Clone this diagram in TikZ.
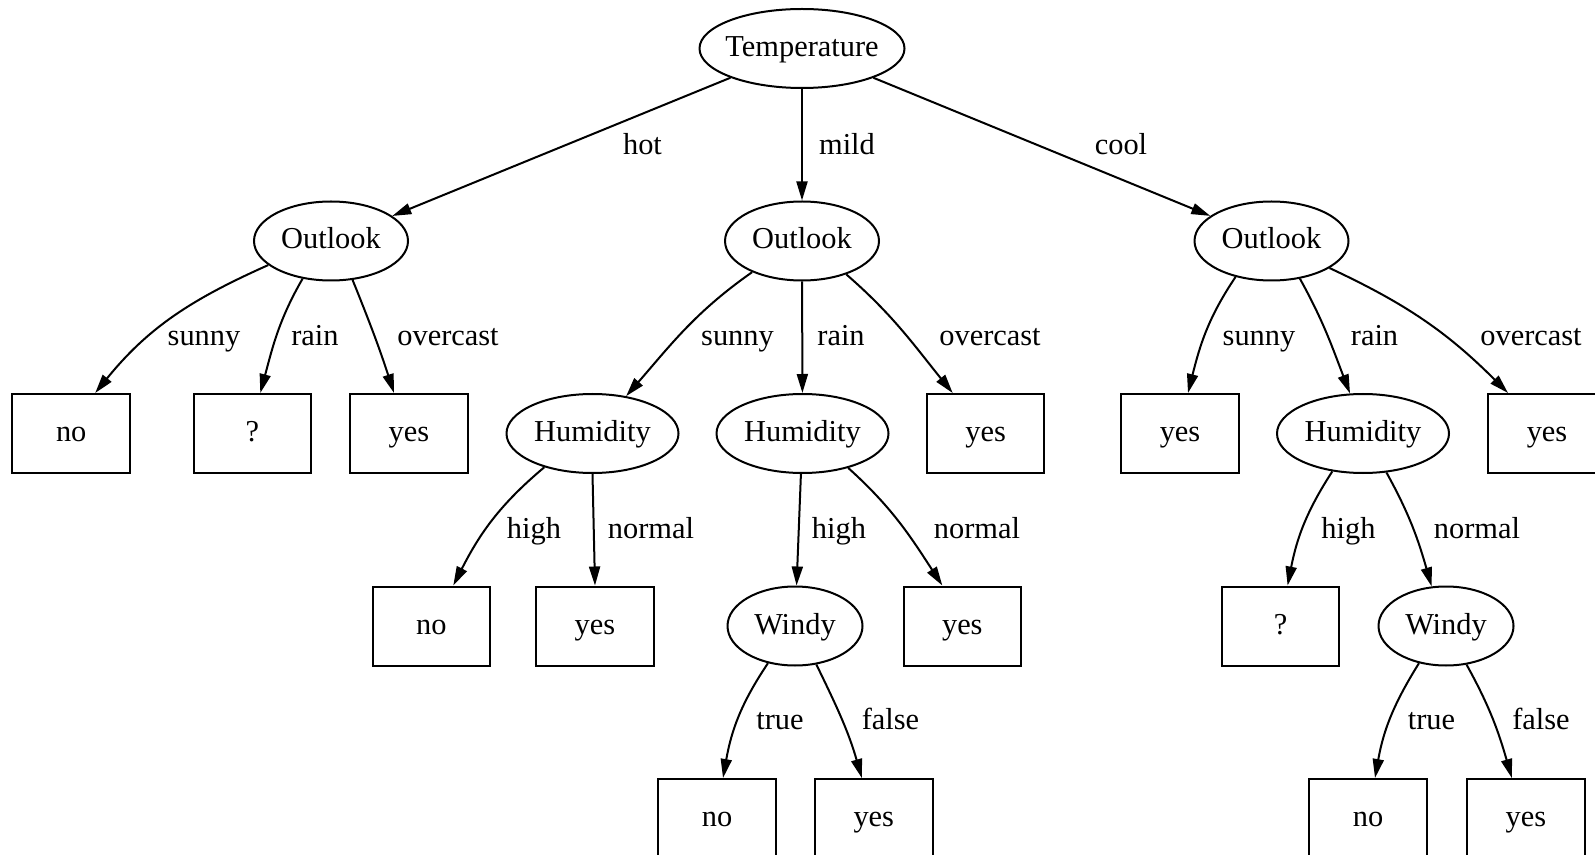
\documentclass[tikz,border=0pt]{standalone}
\usepackage{fontspec}
\setmainfont{Liberation Serif}
\usetikzlibrary{arrows.meta,shapes.geometric,calc}
\newcommand{\zw}[1]{\makebox[0pt]{#1}}
\begin{document}
\begin{tikzpicture}[x=0.5pt,y=0.5pt,
  every node/.style={font=\fontsize{15.2}{18}\selectfont, text height=10pt, text depth=2pt},
  ell/.style={ellipse, draw, line width=1pt, minimum width=#1, minimum height=39.5pt, inner sep=0pt},
  leaf/.style={rectangle, draw, line width=1pt, minimum width=58.75pt, minimum height=39.5pt, inner sep=0pt},
  edge/.style={line width=1pt, -{Triangle[length=9.5pt,width=5.5pt]}},
  lab/.style={anchor=base, inner sep=0pt}
]
\useasboundingbox (0,0) rectangle (1595,-855);
% level 0/1
\node[ell=102.5pt] (T) at (802,-48.5) {\zw{Temperature}};
\node[ell=77pt] (OL) at (331,-241) {\zw{Outlook}};
\node[ell=77pt] (OM) at (802,-241) {\zw{Outlook}};
\node[ell=77pt] (OR) at (1271.5,-241) {\zw{Outlook}};
% level 2
\node[leaf] (no1) at (71.2,-433.5) {no};
\node[leaf] (q1) at (252.3,-433.5) {?};
\node[leaf] (yes1) at (409,-433.5) {yes};
\node[ell=86pt] (HML) at (592.5,-433.5) {\zw{Humidity}};
\node[ell=86pt] (HM) at (802.5,-433.5) {\zw{Humidity}};
\node[leaf] (yes2) at (985.7,-433.5) {yes};
\node[leaf] (yes3) at (1180,-433.5) {yes};
\node[ell=86pt] (HR) at (1363,-433.5) {\zw{Humidity}};
\node[leaf] (yes4) at (1547,-433.5) {yes};
% level 3
\node[leaf] (no2) at (431.3,-626) {no};
\node[leaf] (yes5) at (595,-626) {yes};
\node[ell=67.5pt] (WM) at (795,-626) {\zw{Windy}};
\node[leaf] (yes6) at (962.3,-626) {yes};
\node[leaf] (q2) at (1280.6,-626) {?};
\node[ell=67.5pt] (WR) at (1446,-626) {\zw{Windy}};
% level 4
\node[leaf] (no3) at (717,-818.5) {no};
\node[leaf] (yes7) at (873.8,-818.5) {yes};
\node[leaf] (no4) at (1368,-818.5) {no};
\node[leaf] (yes8) at (1525.8,-818.5) {yes};
% edges
\draw[edge] (T) -- (OL);
\draw[edge] (T) -- (OM);
\draw[edge] (T) -- (OR);
\draw[edge] (OL.201) to[out=204,in=51] ($(no1.north)+(24,0)$);
\draw[edge] (OL.233) to[out=240,in=75] ($(q1.north)+(8,0)$);
\draw[edge] (OL.299) to[out=292,in=108] ($(yes1.north)+(-15,0)$);
\draw[edge] (OM.212) to[out=215,in=49] (HML.48);
\draw[edge] (OM) -- (HM);
\draw[edge] (OM.323) to[out=319,in=129] ($(yes2.north)+(-33,0)$);
\draw[edge] (OR.225) to[out=236,in=76] ($(yes3.north)+(8,0)$);
\draw[edge] (OR.307) to[out=299,in=111] (HR.108);
\draw[edge] (OR.335) to[out=335,in=135] ($(yes4.north)+(-39,0)$);
\draw[edge] (HML.215) to[out=220,in=63] ($(no2.north)+(22,0)$);
\draw[edge] (HML.south) -- (yes5.north);
\draw[edge] (HM) -- (WM);
\draw[edge] (HM.323) to[out=318,in=123] ($(yes6.north)+(-20,0)$);
\draw[edge] (HR.231) to[out=237,in=79] ($(q2.north)+(7,0)$);
\draw[edge] (HR.301) to[out=299,in=106] (WR.110);
\draw[edge] (WM.234) to[out=236,in=80] ($(no3.north)+(6,0)$);
\draw[edge] (WM.299) to[out=296,in=106] ($(yes7.north)+(-12,0)$);
\draw[edge] (WR.234) to[out=238,in=80] ($(no4.north)+(7,0)$);
\draw[edge] (WR.298) to[out=299,in=106] ($(yes8.north)+(-14,0)$);
% labels
\node[lab] (lhot) at (642.5,-155) {hot};
\node[lab] (lmild) at (847,-155) {mild};
\node[lab] (lcool) at (1121,-155) {cool};
\node[lab] (ls1) at (204,-346) {sunny};
\node[lab] (lr1) at (315,-346) {rain};
\node[lab] (lo1) at (448,-346) {overcast};
\node[lab] (ls2) at (737.5,-346) {sunny};
\node[lab] (lr2) at (841,-346) {rain};
\node[lab] (lo2) at (990,-346) {overcast};
\node[lab] (ls3) at (1259,-346) {sunny};
\node[lab] (lr3) at (1374.5,-346) {rain};
\node[lab] (lo3) at (1531,-346) {overcast};
\node[lab] (lh1) at (534,-538) {high};
\node[lab] (ln1) at (651,-538) {normal};
\node[lab] (lh2) at (839,-538) {high};
\node[lab] (ln2) at (977,-538) {normal};
\node[lab] (lh3) at (1348.5,-538) {high};
\node[lab] (ln3) at (1477,-538) {normal};
\node[lab] (lt1) at (780,-729) {true};
\node[lab] (lf1) at (890.5,-729) {false};
\node[lab] (lt2) at (1431.5,-729) {true};
\node[lab] (lf2) at (1541,-729) {false};
\end{tikzpicture}
\end{document}
